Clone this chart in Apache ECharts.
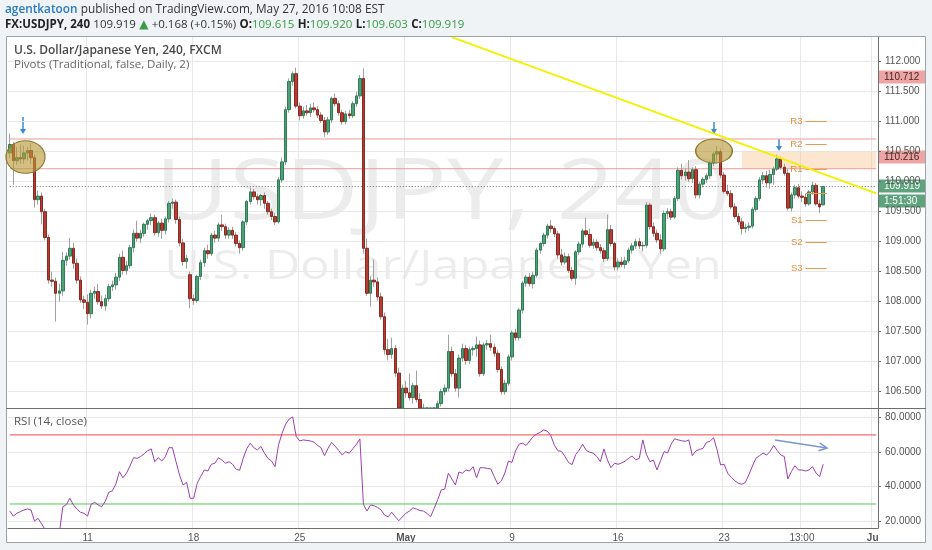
<!DOCTYPE html>
<html>
<head>
<meta charset="utf-8">
<title>USDJPY 240</title>
<script src="https://cdn.jsdelivr.net/npm/echarts@6/dist/echarts.min.js"></script>
<style>
  html, body { margin: 0; padding: 0; background: #eff3f6; }
  #main { width: 932px; height: 550px; }
</style>
</head>
<body>
<div id="main"></div>
<script>
// 4h bars, Apr 7 - May 27 2016
var slotCount = 246;   // bars + empty space up to the price scale
var tickIndex = [22, 52, 82, 112, 142, 172, 202, 224, 244];
var tickText = ['11', '18', '25', 'May', '9', '16', '23', '13:00', 'Ju'];

var opens = [
  110.48,110.62,110.35,110.40,110.38,110.48,110.52,110.40,109.70,109.76,
  109.50,109.07,108.36,108.34,108.14,108.18,108.69,108.76,108.89,108.64,
  108.36,108.03,107.99,107.80,108.14,108.17,108.00,107.93,108.05,108.25,
  108.28,108.41,108.74,108.52,108.60,108.90,109.14,109.06,109.14,109.29,
  109.35,109.40,109.15,109.31,109.19,109.38,109.64,109.66,109.37,108.98,
  108.67,108.45,108.05,108.02,108.42,108.65,108.85,108.80,109.11,109.06,
  109.28,109.25,109.11,109.19,109.11,108.97,108.90,109.33,109.67,109.83,
  109.75,109.70,109.77,109.64,109.50,109.42,109.33,110.03,110.33,111.20,
  111.67,111.80,111.26,111.10,111.18,111.15,111.23,111.20,111.11,111.02,
  110.83,111.03,111.39,111.30,111.15,111.00,111.13,111.10,111.30,111.43,
  111.72,108.89,108.14,108.36,108.33,108.08,107.75,107.20,107.12,107.22,
  106.81,106.05,106.56,106.48,106.40,106.60,106.37,106.22,106.02,105.85,
  106.00,105.92,106.30,106.50,106.56,107.17,106.80,106.56,107.06,107.22,
  107.02,107.20,107.22,107.28,106.80,107.28,107.30,107.24,107.14,106.87,
  106.50,106.64,107.08,107.48,107.40,107.86,108.31,108.41,108.30,108.44,
  108.86,108.97,109.11,109.26,109.22,109.13,108.78,108.66,108.75,108.52,
  108.39,108.83,108.96,109.18,109.12,108.94,108.99,108.90,108.85,108.72,
  109.20,108.97,108.58,108.66,108.62,108.68,108.86,108.93,109.00,108.93,
  108.94,109.61,109.25,109.14,109.03,108.88,109.47,109.50,109.41,109.72,
  110.19,110.10,110.16,110.05,110.20,109.78,109.96,110.04,110.10,110.31,
  110.46,110.50,110.11,109.84,109.80,109.58,109.42,109.33,109.22,109.24,
  109.26,109.54,109.72,110.03,110.10,109.98,110.12,110.21,110.38,110.24,
  110.14,109.56,109.78,109.90,109.76,109.74,109.63,109.83,109.94,109.63,
  109.615
];
var highs = [
  110.80,110.66,110.58,110.62,110.60,110.58,110.64,110.45,109.85,109.82,
  109.55,109.12,108.50,108.40,108.30,108.83,108.82,109.06,108.98,108.72,
  108.42,108.10,108.12,108.20,108.25,108.30,108.10,108.12,108.30,108.35,
  108.48,108.80,108.85,108.68,108.95,109.20,109.35,109.20,109.32,109.38,
  109.47,109.45,109.35,109.38,109.42,109.68,109.72,109.70,109.42,109.05,
  108.78,108.50,108.12,108.45,108.70,108.90,108.95,109.15,109.18,109.32,
  109.45,109.30,109.24,109.25,109.16,109.02,109.36,109.70,109.90,109.88,
  109.80,109.80,109.82,109.68,109.55,109.48,110.08,110.40,111.25,111.72,
  111.84,111.90,111.32,111.25,111.28,111.30,111.32,111.26,111.16,111.08,
  111.08,111.42,111.47,111.35,111.20,111.18,111.20,111.34,111.50,111.78,
  111.89,109.05,108.42,108.70,108.40,108.15,107.82,107.38,107.40,107.28,
  106.90,106.62,106.68,106.80,106.65,106.85,106.48,106.30,106.10,106.08,
  106.12,106.35,106.55,106.62,107.45,107.25,106.88,107.12,107.30,107.28,
  107.25,107.26,107.42,107.35,107.32,107.36,107.45,107.30,107.20,106.92,
  106.70,107.12,107.52,107.55,107.90,108.35,108.45,108.48,108.50,108.90,
  109.00,109.15,109.30,109.36,109.26,109.18,108.88,108.82,108.80,108.58,
  108.86,109.00,109.22,109.40,109.22,109.05,109.04,108.96,108.90,109.45,
  109.28,109.00,108.72,108.74,108.75,108.90,108.98,109.05,109.06,109.00,
  109.66,109.65,109.32,109.20,109.12,109.52,109.56,109.55,109.76,110.24,
  110.30,110.22,110.36,110.24,110.26,110.00,110.08,110.14,110.35,110.50,
  110.59,110.55,110.16,109.95,109.86,109.64,109.48,109.40,109.30,109.32,
  109.58,109.76,110.08,110.16,110.18,110.20,110.25,110.45,110.42,110.30,
  110.22,109.82,109.95,109.96,109.84,109.80,109.86,110.00,109.98,109.70,
  109.920
];
var lows = [
  110.40,109.95,110.28,110.30,110.30,110.35,110.30,109.57,109.62,109.29,
  109.02,108.30,108.25,107.67,108.00,108.10,108.60,108.70,108.55,108.30,
  107.98,107.88,107.62,107.72,108.05,107.95,107.88,107.85,108.00,108.18,
  108.20,108.35,108.45,108.45,108.55,108.82,109.00,108.98,109.08,109.20,
  109.28,109.10,109.08,109.05,109.12,109.32,109.55,109.30,108.92,108.60,
  108.55,107.89,107.95,107.98,108.36,108.58,108.72,108.76,108.98,109.00,
  109.18,109.05,109.05,109.05,108.92,108.80,108.85,109.28,109.62,109.70,
  109.62,109.60,109.55,109.45,109.36,109.28,109.30,109.98,110.28,111.15,
  111.60,111.22,111.02,111.05,111.10,111.08,111.15,111.06,110.98,110.75,
  110.78,110.98,111.25,111.10,110.95,110.96,111.05,111.06,111.25,111.38,
  108.80,108.10,107.92,108.25,108.02,107.70,107.12,107.02,107.05,106.75,
  105.85,105.95,106.40,106.35,106.30,106.32,106.15,105.95,105.75,105.70,
  105.80,105.88,106.25,106.44,106.50,106.75,106.50,106.40,107.00,106.95,
  106.96,107.10,107.08,106.75,106.76,107.20,107.18,107.08,106.82,106.45,
  106.45,106.60,107.02,107.35,107.35,107.80,108.25,108.25,108.22,108.40,
  108.80,108.92,109.05,109.15,109.08,108.72,108.60,108.62,108.48,108.35,
  108.28,108.78,108.90,109.08,108.90,108.88,108.85,108.80,108.66,108.68,
  108.92,108.52,108.52,108.58,108.55,108.64,108.80,108.88,108.88,108.84,
  108.90,109.20,109.08,108.98,108.80,108.84,109.38,109.36,109.38,109.68,
  110.04,110.02,110.00,109.98,109.72,109.72,109.90,109.98,110.05,110.26,
  110.30,110.06,109.80,109.76,109.54,109.38,109.28,109.12,109.15,109.18,
  109.22,109.50,109.68,109.96,109.90,109.88,109.95,110.18,110.20,110.10,
  109.52,109.50,109.72,109.72,109.66,109.58,109.60,109.78,109.60,109.48,
  109.603
];
var closes = [
  110.62,110.35,110.40,110.38,110.48,110.52,110.40,109.70,109.76,109.50,
  109.07,108.36,108.34,108.14,108.18,108.69,108.76,108.89,108.64,108.36,
  108.03,107.99,107.80,108.14,108.17,108.00,107.93,108.05,108.25,108.28,
  108.41,108.74,108.52,108.60,108.90,109.14,109.06,109.14,109.29,109.35,
  109.40,109.15,109.31,109.19,109.38,109.64,109.66,109.37,108.98,108.67,
  108.72,108.05,108.02,108.42,108.65,108.85,108.80,109.11,109.06,109.28,
  109.25,109.11,109.19,109.11,108.97,108.90,109.33,109.67,109.83,109.75,
  109.70,109.77,109.64,109.50,109.42,109.33,110.03,110.33,111.20,111.67,
  111.80,111.26,111.10,111.18,111.15,111.23,111.20,111.11,111.02,110.83,
  111.03,111.39,111.30,111.15,111.00,111.13,111.10,111.30,111.43,111.72,
  108.89,108.14,108.36,108.33,108.08,107.75,107.20,107.12,107.22,106.81,
  106.05,106.56,106.48,106.40,106.60,106.37,106.22,106.02,105.85,106.00,
  105.92,106.30,106.50,106.56,107.17,106.80,106.56,107.06,107.22,107.02,
  107.20,107.22,107.28,106.80,107.28,107.30,107.24,107.14,106.87,106.50,
  106.64,107.08,107.48,107.40,107.86,108.31,108.41,108.30,108.44,108.86,
  108.97,109.11,109.26,109.22,109.13,108.78,108.66,108.75,108.52,108.39,
  108.83,108.96,109.18,109.12,108.94,108.99,108.90,108.85,108.72,109.20,
  108.97,108.58,108.66,108.62,108.68,108.86,108.93,109.00,108.93,108.94,
  109.61,109.25,109.14,109.03,108.88,109.47,109.50,109.41,109.72,110.19,
  110.10,110.16,110.05,110.20,109.78,109.96,110.04,110.10,110.31,110.46,
  110.50,110.11,109.84,109.80,109.58,109.42,109.33,109.22,109.24,109.26,
  109.54,109.72,110.03,110.10,109.98,110.12,110.21,110.38,110.24,110.14,
  109.56,109.78,109.90,109.76,109.74,109.63,109.83,109.94,109.63,109.58,
  109.919
];
var rsi = [
  25.9,23.0,24.6,25.6,26.5,27.1,26.5,20.1,21.7,18.5,
  15.0,11.0,11.5,10.5,13.0,28.4,29.6,33.3,29.4,27.0,
  25.2,24.6,23.0,29.8,31.0,29.4,28.4,31.5,36.8,37.6,
  41.5,48.7,45.2,47.8,52.0,56.8,56.4,57.5,59.0,60.9,
  61.9,54.5,56.8,54.9,57.4,62.6,62.6,54.5,46.8,41.0,
  42.5,33.3,33.3,42.0,46.0,49.7,49.1,53.0,53.6,56.8,
  55.4,53.6,54.5,53.0,50.1,49.5,56.4,62.0,65.2,62.6,
  61.3,63.3,59.5,56.4,54.9,51.6,64.2,71.0,76.2,79.2,
  80.4,69.0,66.5,67.1,66.8,66.5,65.8,64.0,62.6,58.0,
  62.2,65.7,63.5,61.0,58.4,60.3,59.4,62.0,64.5,67.7,
  29.8,25.9,29.4,29.0,28.0,26.5,23.5,22.6,25.2,22.6,
  20.3,22.5,24.6,25.9,27.8,27.0,26.2,25.9,24.5,22.6,
  27.5,32.5,38.1,38.7,47.8,44.5,41.0,48.5,47.8,49.7,
  49.1,51.6,45.2,51.0,51.0,50.6,50.3,45.8,41.5,43.3,
  48.0,54.9,54.1,60.7,64.6,65.2,63.9,66.5,69.0,70.5,
  71.5,72.9,72.2,69.5,64.0,60.8,60.5,57.5,54.0,52.8,
  58.5,61.2,64.6,61.0,60.0,59.4,57.5,54.5,61.9,55.4,
  51.0,53.6,53.0,53.8,54.8,56.5,57.8,55.6,56.4,67.1,
  58.8,54.5,55.4,49.7,55.0,60.3,59.5,64.6,67.8,67.1,
  66.6,66.3,67.1,58.0,60.7,61.6,62.2,65.7,66.3,68.4,
  61.3,52.6,53.0,47.8,45.5,43.5,42.0,41.4,42.5,47.0,
  52.0,56.5,58.0,59.5,58.3,60.5,63.9,61.0,58.4,57.5,
  44.5,48.7,52.2,49.7,49.7,49.1,49.7,51.6,47.8,45.8,
  53.0
];

var pivotNames = ['R3', 'R2', 'R1', 'P', 'S1', 'S2', 'S3'];
var pivotValues = [111.00, 110.62, 110.20, 109.80, 109.36, 108.99, 108.56];
var pivotFrom = 225, pivotTo = 231;
var dailyLevels = [110.712, 110.216];
var lastPrice = 109.919;
var rsiBands = [70, 30];
var priceTicks = [106.5, 107, 107.5, 108, 108.5, 109, 109.5, 110, 110.5, 111, 111.5, 112];
var rsiTicks = [20, 40, 60, 80];
var trendFrom = [125, 112.41], trendTo = [245, 109.805];
var zoneFrom = [207, 110.50], zoneTo = [245, 110.22];
var priceMin = 106.228, priceMax = 112.412;

var categories = [];
for (var i = 0; i < slotCount; i++) categories.push(String(i));

// bars that run below the visible price range are cut at its bottom edge
function cut(v) { return Math.max(v, priceMin); }
var ohlc = opens.map(function (o, i) { return [cut(o), cut(closes[i]), cut(lows[i]), cut(highs[i])]; });
var bodies = opens.map(function (o, i) {
  var c = closes[i];
  return [cut(o), cut(c), cut(Math.min(o, c)), cut(Math.max(o, c))];
});

function isTick(idx) { return tickIndex.indexOf(idx) >= 0; }

// a horizontal level across the whole pane, drawn as its own two-point line series
function levelSeries(name, v, pane, style) {
  return {
    name: name, type: 'line', xAxisIndex: pane, yAxisIndex: pane,
    data: [[0, v], [slotCount - 1, v]],
    symbol: 'none', silent: true, z: 1,
    lineStyle: style, itemStyle: { color: style.color },
    emphasis: { disabled: true }
  };
}

var axisFont = 'Liberation Sans';
var gridColor = '#e8e8e8';
var frameColor = '#6e6e6e';

var pivotLines = pivotNames.map(function (n, k) {
  return [
    { name: n === 'P' ? '' : n, coord: [pivotFrom, pivotValues[k]] },
    { coord: [pivotTo, pivotValues[k]] }
  ];
});

function badge(y, text, bg, fg) {
  return {
    type: 'group', z: 120,
    children: [
      { type: 'rect', shape: { x: 879, y: y - 6.5, width: 46, height: 13 }, style: { fill: bg } },
      { type: 'text', x: 884, y: y, style: { text: text, fill: fg, font: '10px "Liberation Sans"', textVerticalAlign: 'middle' } }
    ]
  };
}
function downArrow(x, y1, y2) {
  return {
    type: 'group', z: 120,
    children: [
      { type: 'line', shape: { x1: x, y1: y1, x2: x, y2: y2 - 3 }, style: { stroke: '#3a8ad6', lineWidth: 1.5 } },
      { type: 'polygon', shape: { points: [[x - 3, y2 - 5], [x + 3, y2 - 5], [x, y2]] }, style: { fill: '#3a8ad6' } }
    ]
  };
}
function oval(cx, cy, rx, ry) {
  return {
    type: 'circle', x: cx, y: cy, scaleX: rx / ry, z: 110,
    shape: { cx: 0, cy: 0, r: ry },
    style: { fill: 'rgba(183,152,52,0.62)', stroke: '#8b7a2e', lineWidth: 1 }
  };
}

var option = {
  animation: false,
  backgroundColor: '#eff3f6',
  grid: [
    { left: 8, top: 37, width: 870, height: 371 },
    { left: 8, top: 409, width: 870, height: 119 }
  ],
  xAxis: [
    {
      type: 'category', gridIndex: 0, data: categories,
      axisLine: { show: false }, axisTick: { show: false }, axisLabel: { show: false },
      splitLine: { show: true, interval: function (idx) { return isTick(idx); }, lineStyle: { color: gridColor } }
    },
    {
      type: 'category', gridIndex: 1, data: categories,
      axisLine: { show: true, lineStyle: { color: frameColor } },
      axisTick: { show: false },
      axisLabel: {
        interval: function (idx) { return isTick(idx); },
        formatter: function (val, idx) {
          var k = tickIndex.indexOf(idx);
          if (k < 0) return '';
          var t = tickText[k];
          return (t === 'May' || t === 'Ju') ? '{b|' + t + '}' : t;
        },
        color: '#555', fontFamily: axisFont, fontSize: 10, margin: 5,
        rich: { b: { fontWeight: 'bold', color: '#555', fontFamily: axisFont, fontSize: 10 } }
      },
      splitLine: { show: true, interval: function (idx) { return isTick(idx); }, lineStyle: { color: gridColor } }
    }
  ],
  yAxis: [
    {
      type: 'value', gridIndex: 0, position: 'right', min: priceMin, max: priceMax,
      axisLine: { show: true, lineStyle: { color: frameColor } },
      axisTick: { show: true, length: 3, customValues: priceTicks, lineStyle: { color: frameColor } },
      axisLabel: {
        customValues: priceTicks, margin: 7, color: '#555', fontFamily: axisFont, fontSize: 10,
        formatter: function (v) { return v.toFixed(3); }
      },
      splitLine: { show: true, lineStyle: { color: gridColor } }
    },
    {
      type: 'value', gridIndex: 1, position: 'right', min: 16.1, max: 85.0,
      axisLine: { show: true, lineStyle: { color: frameColor } },
      axisTick: { show: true, length: 3, customValues: rsiTicks, lineStyle: { color: frameColor } },
      axisLabel: {
        customValues: rsiTicks, margin: 7, color: '#555', fontFamily: axisFont, fontSize: 10,
        formatter: function (v) { return v.toFixed(4); }
      },
      splitLine: { show: true, lineStyle: { color: gridColor } }
    }
  ],
  series: [
    levelSeries('pivot high', dailyLevels[0], 0, { color: '#ec9a9a', type: 'solid', width: 1 }),
    levelSeries('pivot low', dailyLevels[1], 0, { color: '#ec9a9a', type: 'solid', width: 1 }),
    levelSeries('last', lastPrice, 0, { color: '#6a6a6a', type: [1, 2], width: 1 }),
    levelSeries('overbought', rsiBands[0], 1, { color: '#ee4a4a', type: 'solid', width: 1 }),
    levelSeries('oversold', rsiBands[1], 1, { color: '#55c955', type: 'solid', width: 1 }),
    {
      name: 'wicks', type: 'candlestick', xAxisIndex: 0, yAxisIndex: 0,
      data: ohlc, barWidth: 1, clip: true,
      itemStyle: { color: '#a0a0a0', color0: '#a0a0a0', borderColor: '#a0a0a0', borderColor0: '#a0a0a0', borderWidth: 1 },
      markArea: {
        silent: true,
        itemStyle: { color: 'rgba(250,196,140,0.42)' },
        data: [[{ coord: zoneFrom }, { coord: zoneTo }]]
      }
    },
    {
      name: 'USDJPY', type: 'candlestick', xAxisIndex: 0, yAxisIndex: 0,
      data: bodies, barWidth: 3, clip: true,
      itemStyle: { color: '#50a077', color0: '#b53e34', borderColor: '#2f7c56', borderColor0: '#892922', borderWidth: 1 },
      markLine: {
        symbol: 'none', silent: true,
        label: { show: true, position: 'start', formatter: '{b}', color: '#e0913f', fontSize: 9.5, fontFamily: axisFont, distance: 3 },
        lineStyle: { color: '#e89a50', type: 'solid', width: 1 },
        data: pivotLines.concat([
          [
            { coord: trendFrom, label: { show: false }, lineStyle: { color: '#f2f200', width: 2, type: 'solid' } },
            { coord: trendTo }
          ]
        ])
      }
    },
    {
      name: 'RSI', type: 'line', xAxisIndex: 1, yAxisIndex: 1,
      data: rsi, symbol: 'none', clip: true,
      lineStyle: { color: '#9c3fae', width: 1 }
    }
  ],
  graphic: [
    { type: 'rect', z: -10, shape: { x: 6, y: 36, width: 920, height: 507 }, style: { fill: '#ffffff' } },
    { type: 'text', z: -5, x: 443, y: 195, scaleX: 1.21,
      style: { text: 'USDJPY, 240', fill: 'rgba(0,0,0,0.075)', font: '84px "Open Sans"', textAlign: 'center', textVerticalAlign: 'middle' } },
    { type: 'text', z: -5, x: 443, y: 268, scaleX: 1.22,
      style: { text: 'U.S. Dollar/Japanese Yen', fill: 'rgba(0,0,0,0.075)', font: '40px "Open Sans"', textAlign: 'center', textVerticalAlign: 'middle' } },
    { type: 'rect', z: 100, shape: { x: 6.5, y: 36.5, width: 919, height: 506 }, style: { fill: 'none', stroke: '#9ea3a8', lineWidth: 1 } },
    { type: 'line', z: 100, shape: { x1: 6, y1: 408.5, x2: 926, y2: 408.5 }, style: { stroke: frameColor, lineWidth: 1 } },
    { type: 'text', z: 100, x: 5, y: 10,
      style: {
        text: '{a|agentkatoon} {b|published on TradingView.com, May 27, 2016 10:08 EST}',
        textVerticalAlign: 'middle',
        rich: {
          a: { fill: '#2b7bbd', fontSize: 11.8, fontFamily: 'Open Sans', fontWeight: 600 },
          b: { fill: '#333333', fontSize: 11.8, fontFamily: 'Open Sans' }
        }
      } },
    { type: 'text', z: 100, x: 5, y: 25,
      style: {
        text: '{k|FX:USDJPY, 240} {n|109.919} {g|▲} {n|+0.168 (+0.15%)} {k|O:}{v|109.615} {k|H:}{v|109.920} {k|L:}{v|109.603} {k|C:}{v|109.919}',
        textVerticalAlign: 'middle',
        rich: {
          k: { fill: '#222222', fontSize: 11.5, fontFamily: 'Open Sans', fontWeight: 'bold' },
          n: { fill: '#333333', fontSize: 11.5, fontFamily: 'Open Sans' },
          g: { fill: '#3b9a45', fontSize: 12, fontFamily: 'DejaVu Sans' },
          v: { fill: '#3b9a45', fontSize: 11.5, fontFamily: 'Open Sans' }
        }
      } },
    { type: 'text', z: 100, x: 14, y: 51,
      style: { text: 'U.S. Dollar/Japanese Yen, 240, FXCM', fill: '#4a4a4a', font: '600 12px "Open Sans"', textVerticalAlign: 'middle' } },
    { type: 'text', z: 100, x: 14, y: 65,
      style: { text: 'Pivots (Traditional, false, Daily, 2)', fill: '#666666', font: '11.5px "Open Sans"', textVerticalAlign: 'middle' } },
    { type: 'text', z: 100, x: 14, y: 422,
      style: { text: 'RSI (14, close)', fill: '#555555', font: '11.5px "Open Sans"', textVerticalAlign: 'middle' } },
    oval(25.5, 157, 19.5, 16.3),
    oval(714, 151, 18.3, 12),
    downArrow(23, 117, 134),
    downArrow(714, 121, 134),
    downArrow(779, 139, 151),
    { type: 'line', z: 120, shape: { x1: 775, y1: 440, x2: 827, y2: 448 }, style: { stroke: '#7b97cd', lineWidth: 1.5 } },
    { type: 'polyline', z: 120, shape: { points: [[819.7, 442.9], [827, 448], [818.5, 450.8]] }, style: { stroke: '#7b97cd', lineWidth: 1.5, fill: 'none' } },
    badge(77, '110.712', '#eda4a4', '#4a2222'),
    badge(157, '110.216', '#eda4a4', '#4a2222'),
    badge(186, '109.919', '#5fa27e', '#ffffff'),
    badge(201, '1:51:30', '#5fa27e', '#ffffff')
  ]
};

var chart = echarts.init(document.getElementById('main'));
chart.setOption(option);
</script>
</body>
</html>
